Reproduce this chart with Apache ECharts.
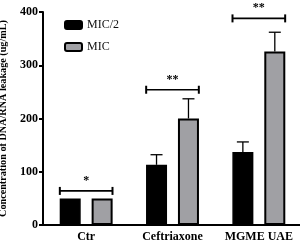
<!DOCTYPE html>
<html lang="en">
<head>
    <meta charset="UTF-8">
    <title>DNA/RNA leakage</title>
    <script src="https://cdn.jsdelivr.net/npm/echarts@6/dist/echarts.min.js"></script>
    <style>body{margin:0}</style>
</head>
<body>
    <div id="chart1" style="width:300px;height:245px;"></div>
    <script>
        var myCharts=echarts.init(document.getElementById("chart1"))
        var categories=["Ctr","Ceftriaxone","MGME UAE"]
        var mic2=[50,113,137]
        var mic2Err=[0,19,19]
        var mic=[50,200,326]
        var micErr=[0,37,36]
        // significance brackets: category, height, label
        var sigY=[64,254,388]
        var sigText=["*","**","**"]
        var serif="Liberation Serif"

        var errData=[]
        for(var i=0;i<categories.length;i++){
            errData.push([i,mic2[i],mic2Err[i],-1])
            errData.push([i,mic[i],micErr[i],1])
        }
        var sigData=sigY.map(function(v,i){return [i,v,sigText[i]]})

        function renderErr(params,api){
            var band=api.size([1,0])[0]
            var off=api.value(3)*band*0.185
            var top=api.coord([api.value(0),api.value(1)+api.value(2)])
            var base=api.coord([api.value(0),api.value(1)])
            var x=top[0]+off
            if(api.value(2)<=0) return
            return {type:"group",children:[
                {type:"line",shape:{x1:x,y1:base[1],x2:x,y2:top[1]},style:{stroke:"#000",lineWidth:1.3}},
                {type:"line",shape:{x1:x-6,y1:top[1],x2:x+6,y2:top[1]},style:{stroke:"#000",lineWidth:1.3}}
            ]}
        }
        function renderSig(params,api){
            var p=api.coord([api.value(0),api.value(1)])
            var w=api.size([1,0])[0]*0.305
            return {type:"group",children:[
                {type:"line",shape:{x1:p[0]-w,y1:p[1],x2:p[0]+w,y2:p[1]},style:{stroke:"#000",lineWidth:1.6}},
                {type:"line",shape:{x1:p[0]-w,y1:p[1]-4,x2:p[0]-w,y2:p[1]+4},style:{stroke:"#000",lineWidth:2}},
                {type:"line",shape:{x1:p[0]+w,y1:p[1]-4,x2:p[0]+w,y2:p[1]+4},style:{stroke:"#000",lineWidth:2}},
                {type:"text",x:p[0],y:p[1]-4,style:{text:api.value(2),fill:"#000",font:"bold 12px "+serif,align:"center",verticalAlign:"bottom"}}
            ]}
        }

        var option={
            animation:false,
            textStyle:{fontFamily:serif},
            legend:{
                data:["MIC/2","MIC"],
                orient:"vertical",
                left:59,
                top:14,
                itemWidth:17,
                itemHeight:8,
                itemGap:10,
                textStyle:{fontFamily:serif,fontSize:12,color:"#111"}
            },
            grid:{left:43,right:-2,top:12,bottom:20,containLabel:false,outerBoundsMode:"none"},
            xAxis:{
                type:"category",
                data:categories,
                axisLine:{lineStyle:{color:"#000",width:2}},
                axisTick:{alignWithLabel:true,length:4,lineStyle:{color:"#000",width:2}},
                axisLabel:{interval:0,hideOverlap:false,color:"#000",fontWeight:"bold",fontSize:12,fontFamily:serif,margin:6}
            },
            yAxis:{
                type:"value",
                min:0,max:400,interval:100,
                name:"Concentration of DNA/RNA leakage (ug/mL)",
                nameLocation:"middle",
                nameGap:35,
                nameTextStyle:{color:"#000",fontWeight:"bold",fontSize:10.2,fontFamily:serif},
                splitLine:{show:false},
                axisLine:{show:true,lineStyle:{color:"#000",width:2}},
                axisTick:{show:true,length:4,lineStyle:{color:"#000",width:2}},
                axisLabel:{color:"#000",fontWeight:"bold",fontSize:12,fontFamily:serif,margin:5}
            },
            series:[
                {
                    name:"MIC/2",type:"bar",data:mic2,barWidth:21,barGap:"52%",
                    itemStyle:{color:"#000",borderColor:"#000",borderWidth:1.5}
                },
                {
                    name:"MIC",type:"bar",data:mic,barWidth:21,
                    itemStyle:{color:"#a0a0a4",borderColor:"#000",borderWidth:2}
                },
                {
                    type:"custom",renderItem:renderErr,data:errData,z:1,silent:true
                },
                {
                    type:"custom",renderItem:renderSig,data:sigData,z:3,silent:true
                }
            ]
        }
        myCharts.setOption(option)
    </script>
</body>
</html>
